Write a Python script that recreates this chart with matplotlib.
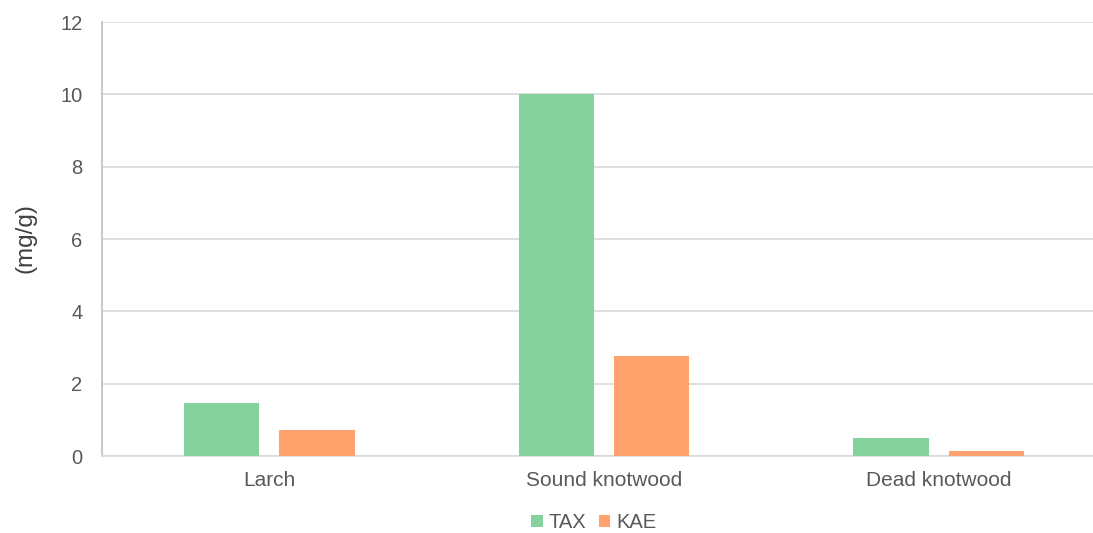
import matplotlib
matplotlib.use("Agg")
import matplotlib.pyplot as plt
import numpy as np

categories = ["Larch", "Sound knotwood", "Dead knotwood"]
tax = [1.47, 10.0, 0.5]
kae = [0.72, 2.76, 0.14]
series_names = ["TAX", "KAE"]
yticks = [0, 2, 4, 6, 8, 10, 12]

plt.rcParams['font.family'] = ['Liberation Sans', 'DejaVu Sans']

W, H = 1093, 533
fig = plt.figure(figsize=(W/100, H/100), dpi=100)
left, right = 102/W, 1106/W
bottom, top = (H-456)/H, (H-22)/H
ax = fig.add_axes([left, bottom, right-left, top-bottom])

x = np.arange(len(categories))
bw = 0.225
off = 0.142
green = "#86D29E"
orange = "#FFA26B"
ax.bar(x - off, tax, bw, color=green, label=series_names[0], zorder=3)
ax.bar(x + off, kae, bw, color=orange, label=series_names[1], zorder=3)

ax.set_xlim(-0.5, 2.5)
ax.set_ylim(0, 12)
ax.set_yticks(yticks)
ax.set_xticks(x)
ax.set_xticklabels(categories)
ax.yaxis.grid(True, color="#D9D9D9", linewidth=1.2, zorder=0)
ax.set_axisbelow(True)
for s in ["top", "right"]:
    ax.spines[s].set_visible(False)
ax.spines["left"].set_color("#BFBFBF")
ax.spines["bottom"].set_color("#D9D9D9")
ax.spines["left"].set_linewidth(1.2)
ax.spines["bottom"].set_linewidth(1.2)
ax.tick_params(axis="both", length=0, colors="#595959")
ax.tick_params(axis="y", pad=14, labelsize=14.5)
ax.tick_params(axis="x", pad=11, labelsize=15)
fig.text(26/W, (H-238)/H, "(mg/g)", rotation=90, ha="center", va="center",
         fontsize=17.5, color="#404040")

fig.legend(loc="center", bbox_to_anchor=(594/W, (H-523)/H), ncol=2, frameon=False,
           fontsize=14.5, handlelength=0.55, handleheight=0.55, handletextpad=0.3,
           columnspacing=0.65, labelcolor="#595959")

fig.savefig("out.png", dpi=100)
